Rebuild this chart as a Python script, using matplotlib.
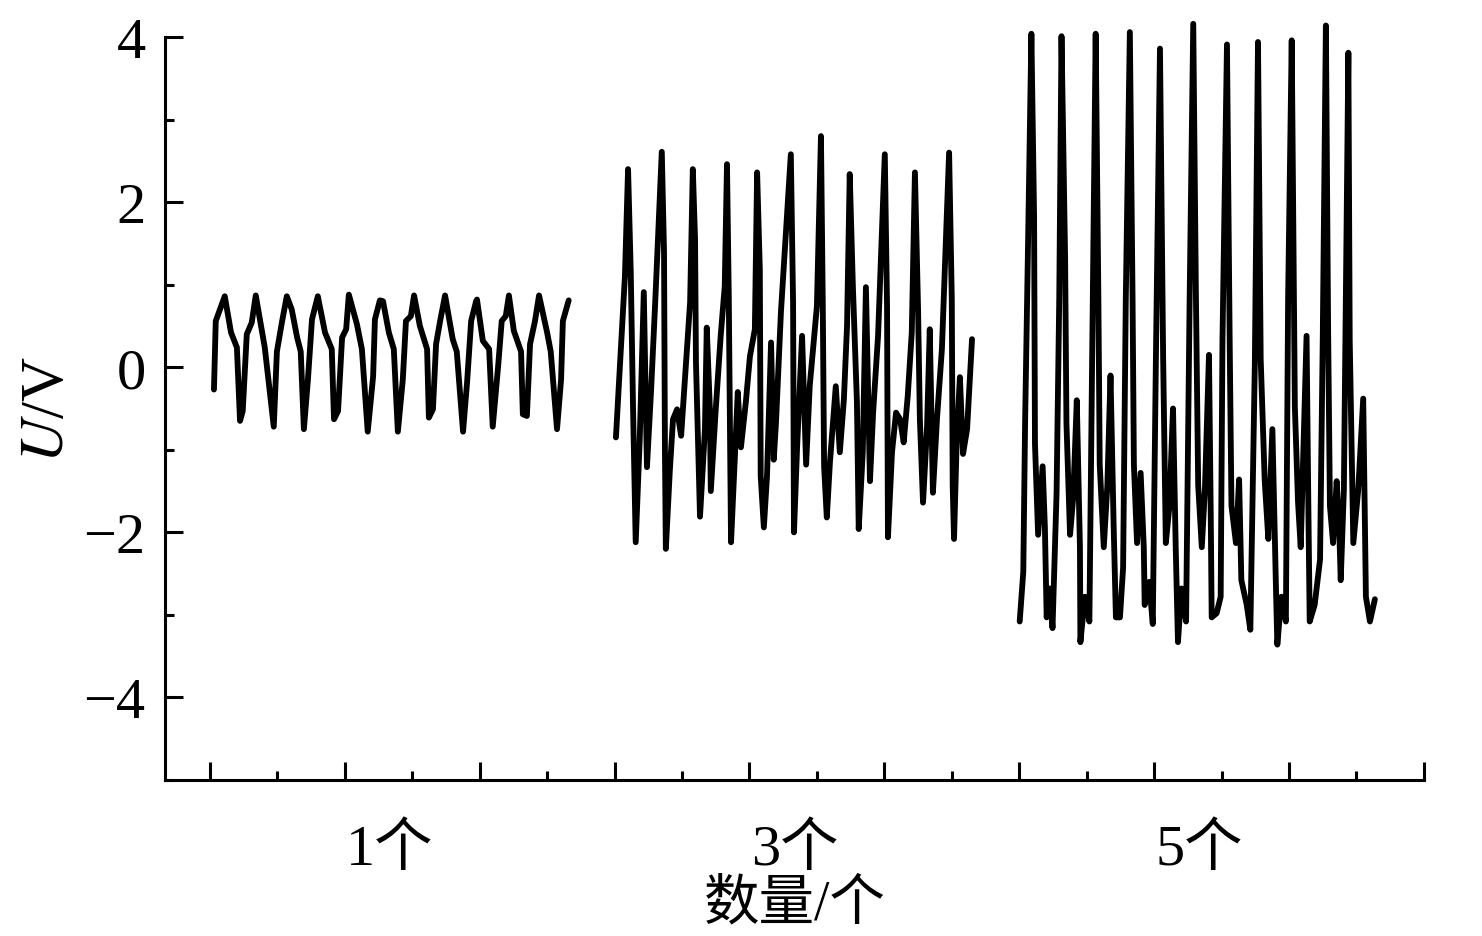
import matplotlib
matplotlib.use("Agg")
import matplotlib.pyplot as plt
from matplotlib.ticker import MultipleLocator

plt.rcParams['font.family'] = ['Liberation Serif', 'Noto Sans CJK SC']
plt.rcParams['mathtext.fontset'] = 'stix'
plt.rcParams['axes.unicode_minus'] = True

# group 1: one object
t1 = [1.09, 1.13, 1.33, 1.47, 1.60, 1.67, 1.73, 1.82, 1.93, 2.02, 2.22, 2.42, 2.49,
      2.60, 2.71, 2.82, 2.94, 3.02, 3.09, 3.18, 3.27, 3.40, 3.56, 3.71, 3.76, 3.85,
      3.94, 4.03, 4.09, 4.27, 4.38, 4.51, 4.63, 4.67, 4.78, 4.85, 4.98, 5.09, 5.18,
      5.29, 5.36, 5.47, 5.54, 5.67, 5.83, 5.87, 5.96, 6.03, 6.12, 6.23, 6.40, 6.49,
      6.63, 6.72, 6.81, 6.92, 6.94, 7.07, 7.21, 7.29, 7.41, 7.49, 7.58, 7.65, 7.76,
      7.92, 7.96, 8.05, 8.12, 8.23, 8.32, 8.50, 8.58, 8.72, 8.81, 8.85, 8.98]
u1 = [-0.27, 0.56, 0.86, 0.42, 0.24, -0.65, -0.53, 0.40, 0.54, 0.87, 0.24, -0.72, 0.19,
      0.54, 0.86, 0.70, 0.36, 0.19, -0.75, -0.15, 0.58, 0.86, 0.42, 0.22, -0.63, -0.53,
      0.36, 0.46, 0.88, 0.52, 0.22, -0.78, -0.11, 0.58, 0.81, 0.80, 0.42, 0.22, -0.78,
      -0.15, 0.56, 0.62, 0.87, 0.50, 0.22, -0.61, -0.51, 0.28, 0.56, 0.87, 0.34, 0.19,
      -0.78, -0.18, 0.56, 0.80, 0.82, 0.32, 0.22, -0.72, 0.01, 0.56, 0.62, 0.87, 0.44,
      0.19, -0.57, -0.59, 0.28, 0.56, 0.87, 0.42, 0.19, -0.75, -0.15, 0.56, 0.81]

# group 2: three objects
t3 = [10.03, 10.23, 10.30, 10.36, 10.41, 10.47, 10.56, 10.65, 10.72, 10.81, 10.90, 11.05,
      11.10, 11.12, 11.14, 11.23, 11.30, 11.39, 11.48, 11.59, 11.68, 11.74, 11.79, 11.81,
      11.90, 12.01, 12.05, 12.12, 12.14, 12.25, 12.36, 12.45, 12.50, 12.54, 12.57, 12.59,
      12.68, 12.74, 12.81, 12.92, 13.01, 13.12, 13.17, 13.23, 13.25, 13.32, 13.39, 13.48,
      13.54, 13.59, 13.70, 13.92, 13.97, 13.99, 14.06, 14.17, 14.26, 14.34, 14.50, 14.59,
      14.63, 14.66, 14.72, 14.79, 14.92, 15.01, 15.10, 15.17, 15.23, 15.30, 15.39, 15.43,
      15.52, 15.59, 15.68, 15.75, 15.86, 16.01, 16.06, 16.08, 16.17, 16.26, 16.35, 16.43,
      16.52, 16.61, 16.68, 16.75, 16.79, 16.86, 16.95, 17.01, 17.08, 17.17, 17.28, 17.44,
      17.50, 17.52, 17.55, 17.61, 17.68, 17.75, 17.84, 17.95]
u3 = [-0.85, 1.10, 2.40, 1.15, -0.47, -2.12, -0.87, 0.91, -1.21, -0.30, 0.74, 2.61,
      1.39, -1.00, -2.20, -1.24, -0.63, -0.51, -0.83, 0.06, 0.79, 2.40, 1.55, 0.06,
      -1.81, -0.75, 0.48, -0.51, -1.50, -0.51, 0.38, 0.98, 2.46, 0.86, -0.96, -2.12,
      -1.03, -0.30, -0.97, -0.42, 0.13, 0.46, 2.36, 1.19, -1.32, -1.94, -1.32, 0.30,
      -1.12, -0.67, 0.67, 2.58, 0.79, -2.00, -0.96, 0.38, -1.18, -0.23, 0.74, 2.80,
      0.79, -1.20, -1.82, -1.15, -0.23, -1.03, -0.39, 0.50, 2.34, 0.98, -0.42, -1.96,
      -1.03, 0.97, -1.38, -0.55, 0.38, 2.58, 0.74, -2.06, -1.03, -0.55, -0.63, -0.91,
      -0.35, 0.42, 2.36, 0.70, -0.63, -1.64, -0.72, 0.46, -1.52, -0.63, 0.22, 2.60,
      0.82, -1.44, -2.08, -0.87, -0.12, -1.05, -0.75, 0.34]

# group 3: five objects
t5 = [19.01, 19.09, 19.13, 19.20, 19.27, 19.33, 19.35, 19.42, 19.52, 19.57, 19.61, 19.68,
      19.74, 19.83, 19.89, 19.94, 20.02, 20.05, 20.13, 20.20, 20.28, 20.35, 20.36, 20.46,
      20.56, 20.61, 20.70, 20.76, 20.79, 20.88, 20.96, 21.03, 21.10, 21.15, 21.24, 21.31,
      21.37, 21.46, 21.52, 21.55, 21.62, 21.70, 21.77, 21.79, 21.89, 21.97, 22.04, 22.13,
      22.20, 22.26, 22.34, 22.42, 22.48, 22.53, 22.61, 22.71, 22.79, 22.87, 22.93, 22.98,
      23.06, 23.13, 23.22, 23.26, 23.28, 23.39, 23.48, 23.52, 23.62, 23.68, 23.72, 23.82,
      23.89, 23.94, 24.06, 24.14, 24.24, 24.31, 24.37, 24.46, 24.54, 24.63, 24.71, 24.74,
      24.83, 24.93, 24.98, 25.06, 25.13, 25.20, 25.26, 25.39, 25.43, 25.46, 25.57, 25.69,
      25.75, 25.82, 25.87, 25.91, 25.98, 26.06, 26.12, 26.15, 26.22, 26.32, 26.35, 26.43,
      26.54, 26.65, 26.71, 26.80, 26.91]
u5 = [-3.08, -2.48, -0.68, 1.63, 4.04, 1.83, -0.93, -2.03, -1.20, -1.93, -3.03, -2.68,
      -3.16, -1.53, 0.84, 4.01, 1.33, -0.68, -2.03, -1.58, -0.40, -2.18, -3.33, -2.78,
      -3.08, -0.48, 4.04, 0.84, -1.18, -2.18, -1.43, -0.10, -1.93, -3.03, -3.03, -2.43,
      0.84, 4.06, 0.84, -1.18, -2.13, -1.28, -2.18, -2.88, -2.60, -3.11, 0.13, 3.86,
      0.13, -2.13, -1.68, -0.50, -2.18, -3.33, -2.68, -3.08, 0.84, 4.16, 0.84, -1.43,
      -2.18, -1.48, 0.15, -1.83, -3.03, -2.98, -2.78, 0.33, 3.91, 0.33, -1.68, -2.13,
      -1.36, -2.58, -2.88, -3.18, 0.05, 3.94, 0.10, -1.38, -2.08, -0.75, -2.68, -3.36,
      -2.78, -3.08, 0.84, 3.96, -0.48, -1.63, -2.18, 0.38, -1.68, -3.08, -2.88, -2.33,
      0.33, 4.14, 0.43, -1.68, -2.13, -1.38, -2.03, -2.58, -1.48, 3.81, 0.33, -2.13,
      -1.48, -0.38, -2.78, -3.08, -2.81]

group_pos = [5, 14, 23]
group_labels = ['1个', '3个', '5个']

fig = plt.figure(figsize=(14.82, 9.37), dpi=100)
ax = fig.add_axes([0.1113, 0.1665, 0.8495, 0.7929])

for t, u in [(t1, u1), (t3, u3), (t5, u5)]:
    ax.plot(t, u, color='black', linewidth=4.2, clip_on=False,
            solid_joinstyle='round', solid_capstyle='round')

ax.set_xlim(0, 28)
ax.set_ylim(-5, 4)
# ticks sit at 1, 4, 7, ... with minor ones in between
ax.set_xticks([1 + 3 * k for k in range(10)])
ax.set_xticks([2.5 + 3 * k for k in range(9)], minor=True)
ax.set_xticklabels([])
ax.yaxis.set_major_locator(MultipleLocator(2))
ax.yaxis.set_minor_locator(MultipleLocator(1))

for side in ['top', 'right']:
    ax.spines[side].set_visible(False)
for side in ['left', 'bottom']:
    ax.spines[side].set_linewidth(2.2)

ax.tick_params(which='major', direction='in', length=13, width=2.2, labelsize=42, pad=14)
ax.tick_params(which='minor', direction='in', length=6.5, width=2.2)

for x, lab in zip(group_pos, group_labels):
    ax.text(x, -0.093, lab, transform=ax.get_xaxis_transform(),
            ha='center', va='center', fontsize=42)

ax.set_xlabel('数量/个', fontsize=40, va='center')
ax.xaxis.set_label_coords(0.5, -0.167)
ax.set_ylabel('$U$/V', fontsize=44, va='center')
ax.yaxis.set_label_coords(-0.093, 0.5)

fig.savefig('out.png', dpi=100)
